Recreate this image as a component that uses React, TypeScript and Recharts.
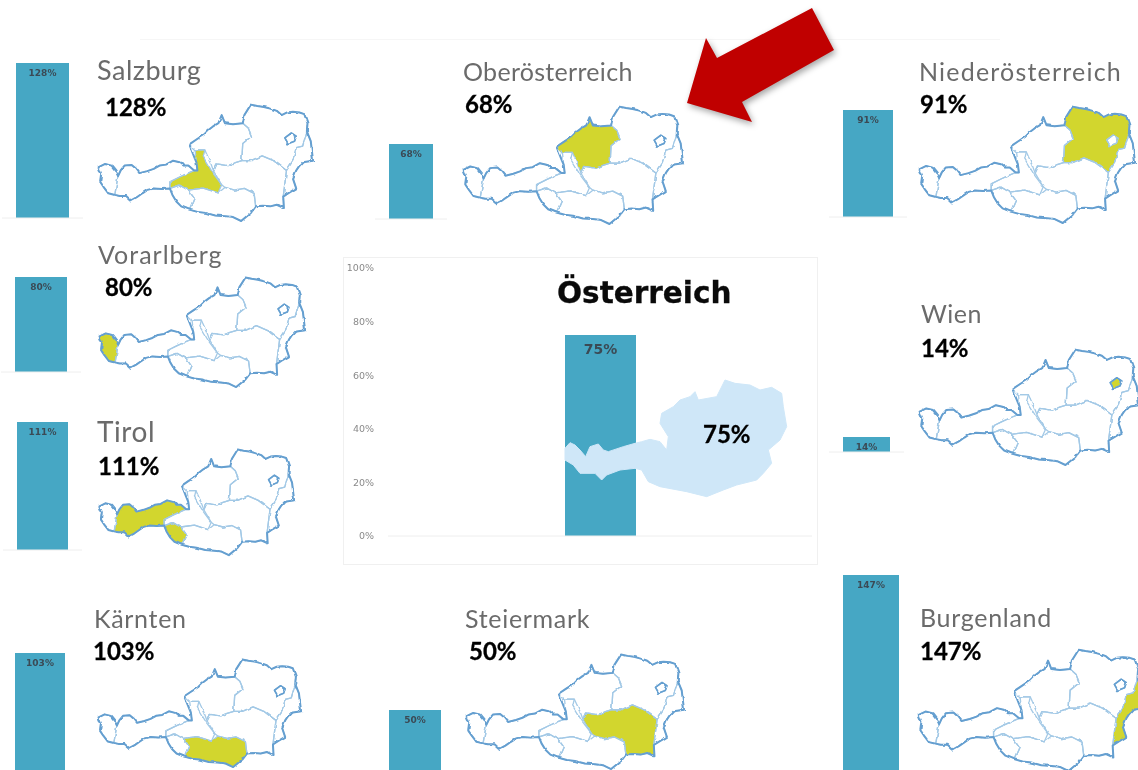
import { BarChart, Bar, XAxis, YAxis, LabelList, ReferenceLine } from "recharts";

// values
const regions = ["Salzburg", "Oberösterreich", "Niederösterreich", "Vorarlberg", "Tirol", "Wien", "Kärnten", "Steiermark", "Burgenland"];
const regionValues = [128, 68, 91, 80, 111, 14, 103, 50, 147];
const totalLabel = "Österreich";
const totalValue = 75;
const totalTicks = [0, 20, 40, 60, 80, 100];

// bar box: left, width, top of bar, bottom of bar (bars run off the page at the bottom row)
const barBoxes = [
  [16, 53, 63, 218],
  [389, 44, 144, 219],
  [843, 50, 110, 217],
  [15, 52, 277, 372],
  [17, 51, 422, 550],
  [843, 47, 437, 452],
  [15, 50, 653, 778],
  [389, 52, 710, 778],
  [843, 56, 575, 790],
];
// map box: left, top, width, height
const mapBoxes = [
  [97, 103, 217, 119],
  [462, 105, 222, 120],
  [918, 105, 218, 119],
  [98, 276, 208, 112],
  [98, 448, 197, 108],
  [918, 348, 222, 118],
  [97, 658, 205, 110],
  [465, 653, 220, 117],
  [917, 648, 228, 124],
];
// title: left, centre y, size, letter spacing; percent: left, centre y
const titleBoxes = [
  [97, 69, 27, 0.5],
  [463, 71, 25, 0.3],
  [919, 71, 25, 1.2],
  [98, 254, 25, 1],
  [97, 431, 28, 0.6],
  [921, 313, 25, 0.5],
  [94, 618, 25, 0.7],
  [465, 618, 25, 0.7],
  [920, 617, 25, 0.7],
];
const percentBoxes = [
  [105, 107],
  [465, 104],
  [920, 104],
  [105, 287],
  [98, 466],
  [921, 348],
  [93, 651],
  [469, 651],
  [920, 651],
];

// map shapes, traced in a 670x365 box
const MAP_VIEW = "245 313 670 365";
const outline =
  "M250 510 L270 500 L290 505 L302 520 L310 537 L318 520 L330 505 L352 503 L366 515 L376 528 L400 522 L420 515 L438 505 L458 502 L480 490 L500 495 L512 505 L527 505 L545 520 L555 520 L552 495 L545 478 L530 440 L552 425 L575 410 L590 395 L603 385 L620 375 L630 350 L640 375 L665 378 L695 375 L700 350 L720 318 L740 322 L760 325 L780 330 L800 337 L815 350 L832 342 L850 340 L870 342 L885 347 L895 375 L893 400 L905 430 L912 490 L880 495 L868 508 L860 520 L850 545 L860 575 L835 590 L820 600 L822 635 L800 625 L780 630 L757 628 L735 630 L720 650 L690 675 L665 663 L640 660 L610 658 L580 650 L555 647 L530 640 L505 630 L490 615 L478 595 L470 575 L445 577 L420 575 L400 580 L385 590 L368 602 L350 612 L335 598 L315 598 L300 595 L280 590 L265 570 L255 555 L258 530 Z";
const wienHole = "M825 420 L845 405 L860 415 L855 430 L835 438 Z";
const regionShapes = [
  // Salzburg
  "M548 457 L578 457 L573 478 L603 528 L630 564 L619 589 L573 574 L526 580 L500 565 L470 575 L470 555 L500 540 L526 528 L545 520 L555 520 L552 495 Z",
  // Oberösterreich
  "M530 440 L552 425 L575 410 L590 395 L603 385 L620 375 L630 350 L640 375 L665 378 L695 375 L712 390 L722 415 L695 437 L692 490 L670 497 L650 505 L615 500 L605 522 L595 495 L578 457 L548 457 Z",
  // Niederösterreich
  "M700 350 L720 318 L740 322 L760 325 L780 330 L800 337 L815 350 L832 342 L850 340 L870 342 L885 347 L895 375 L893 400 L880 445 L860 450 L850 490 L830 520 L810 505 L790 490 L755 475 L720 490 L692 490 L695 437 L722 415 L712 390 L695 375 Z M825 420 L845 405 L860 415 L855 430 L835 438 Z",
  // Vorarlberg
  "M250 510 L270 500 L290 505 L302 520 L310 537 L305 565 L300 595 L280 590 L265 570 L255 555 L258 530 Z",
  // Tirol with Osttirol
  "M310 537 L318 520 L330 505 L352 503 L366 515 L376 528 L400 522 L420 515 L438 505 L458 502 L480 490 L500 495 L512 505 L527 505 L545 520 L526 528 L500 540 L470 555 L470 575 L445 577 L420 575 L400 580 L385 590 L368 602 L350 612 L335 598 L315 598 L300 595 L305 565 Z M470 575 L500 565 L526 580 L535 590 L545 605 L530 640 L505 630 L490 615 L478 595 Z",
  // Wien
  wienHole,
  // Kärnten
  "M545 605 L526 580 L573 574 L619 589 L640 572 L670 580 L700 575 L730 590 L735 630 L720 650 L690 675 L665 663 L640 660 L610 658 L580 650 L555 647 L530 640 Z",
  // Steiermark
  "M605 522 L615 500 L650 505 L670 497 L692 490 L720 490 L755 475 L790 490 L810 505 L830 520 L825 560 L820 600 L822 635 L800 625 L780 630 L757 628 L735 630 L730 590 L700 575 L670 580 L640 572 L630 564 Z",
  // Burgenland
  "M880 445 L893 400 L905 430 L912 490 L880 495 L868 508 L860 520 L850 545 L860 575 L835 590 L820 600 L825 560 L830 520 L850 490 L860 450 Z",
];
// whole country for the middle panel, traced in a 1470x960 box
const countryShape =
  "M675 595 L690 578 L705 585 L720 600 L737 620 L750 590 L775 582 L790 600 L805 605 L850 590 L885 580 L905 575 L930 568 L960 575 L980 600 L985 560 L960 520 L965 490 L1000 470 L1020 450 L1050 440 L1065 425 L1075 450 L1130 440 L1155 390 L1185 400 L1230 405 L1260 420 L1295 412 L1325 430 L1330 470 L1340 530 L1320 570 L1285 600 L1295 640 L1270 670 L1250 690 L1190 705 L1150 720 L1100 740 L1040 725 L960 710 L925 695 L905 660 L885 655 L840 660 L800 675 L785 690 L765 670 L720 670 L700 645 L675 630 Z";

const BAR_COLOR = "#46a7c4";
const LABEL_COLOR = "#3b4a55";
const AXIS_LINE = "#eeeeee";
const TEXT_FONT = "Lato, 'Open Sans', sans-serif";
const CHART_FONT = "'DejaVu Sans', sans-serif";

const percent = (v: any) => `${v}%`;

function RegionBar({ name, value, box }: { name: string; value: number; box: number[] }) {
  const [left, width, top, bottom] = box;
  const chartData = [{ name, value }];
  return (
    <div style={{ position: "absolute", left: left - 14, top, width: width + 28, height: bottom - top + 2 }}>
      <BarChart width={width + 28} height={bottom - top + 2} data={chartData} margin={{ top: 0, right: 0, bottom: 2, left: 0 }}>
        <XAxis dataKey="name" hide />
        <YAxis hide domain={[0, value]} />
        <ReferenceLine y={0} stroke={AXIS_LINE} />
        <Bar dataKey="value" fill={BAR_COLOR} barSize={width} isAnimationActive={false}>
          <LabelList
            dataKey="value"
            position="insideTop"
            offset={7}
            formatter={percent}
            fill={LABEL_COLOR}
            fontSize={9}
            fontWeight={700}
            fontFamily={CHART_FONT}
          />
        </Bar>
      </BarChart>
    </div>
  );
}

// roughens the traced borders a little, the source maps are jagged
function RoughDefs() {
  return (
    <svg width={0} height={0} style={{ position: "absolute" }}>
      <defs>
        <filter id="rough" x="-5%" y="-5%" width="110%" height="110%">
          <feTurbulence type="fractalNoise" baseFrequency="0.045" numOctaves={2} seed={4} result="noise" />
          <feDisplacementMap in="SourceGraphic" in2="noise" scale={9} xChannelSelector="R" yChannelSelector="G" />
        </filter>
      </defs>
    </svg>
  );
}

function RegionMap({ active, box }: { active: number; box: number[] }) {
  const [left, top, width, height] = box;
  return (
    <svg
      viewBox={MAP_VIEW}
      preserveAspectRatio="none"
      style={{ position: "absolute", left, top, width, height, overflow: "visible" }}
    >
      <g filter="url(#rough)">
        <path d={regionShapes[active]} fill="#d2d62f" fillRule="evenodd" stroke="none" />
        {regionShapes.map((d, i) => (
          <path key={i} d={d} fill="none" stroke="#a3c9e6" strokeWidth={1.3} vectorEffect="non-scaling-stroke" strokeLinejoin="round" />
        ))}
        <path d={outline} fill="none" stroke="#659fd0" strokeWidth={2} vectorEffect="non-scaling-stroke" strokeLinejoin="round" />
        {active !== 2 && (
          <path d={wienHole} fill="none" stroke="#659fd0" strokeWidth={1.6} vectorEffect="non-scaling-stroke" strokeLinejoin="round" />
        )}
      </g>
    </svg>
  );
}

function Caption(props: { left: number; y: number; size: number; spacing?: number; bold?: boolean; color: string; font?: string; text: string }) {
  const { left, y, size, spacing, bold, color, font, text } = props;
  return (
    <div
      style={{
        position: "absolute",
        left,
        top: y,
        transform: "translateY(-50%)",
        fontFamily: font ?? TEXT_FONT,
        fontSize: size,
        fontWeight: bold ? 700 : 400,
        letterSpacing: spacing ?? 0,
        WebkitTextStroke: bold ? "0.3px currentColor" : undefined,
        color,
        lineHeight: 1,
        whiteSpace: "nowrap",
      }}
    >
      {text}
    </div>
  );
}

function TotalPanel() {
  const chartData = [{ name: totalLabel, value: totalValue }];
  return (
    <>
      <div style={{ position: "absolute", left: 343, top: 257, width: 475, height: 308, border: "1px solid #f0f0f0", boxSizing: "border-box" }}>
        <BarChart width={473} height={306} data={chartData} margin={{ top: 10, right: 5, bottom: 28, left: 0 }}>
          <XAxis dataKey="name" hide />
          <YAxis
            domain={[0, 100]}
            ticks={totalTicks}
            tickFormatter={percent}
            width={44}
            axisLine={false}
            tickLine={false}
            tickMargin={8}
            tick={{ fontSize: 9.5, fill: "#8a8a8a", fontFamily: CHART_FONT }}
          />
          <ReferenceLine y={0} stroke={AXIS_LINE} />
          <Bar dataKey="value" fill={BAR_COLOR} barSize={71} isAnimationActive={false}>
            <LabelList
              dataKey="value"
              position="insideTop"
              offset={9}
              formatter={percent}
              fill={LABEL_COLOR}
              fontSize={14}
              fontWeight={700}
              fontFamily={CHART_FONT}
            />
          </Bar>
        </BarChart>
      </div>
      <svg
        viewBox="0 0 1470 960"
        preserveAspectRatio="none"
        style={{ position: "absolute", left: 340, top: 250, width: 490, height: 320 }}
      >
        <path d={countryShape} fill="#cfe7f8" stroke="#cfe7f8" strokeWidth={3} strokeLinejoin="round" />
      </svg>
      <Caption left={557} y={294} size={29.5} bold color="#0a0a0a" font={CHART_FONT} text={totalLabel} />
      <Caption left={703} y={434} size={24} bold color="#000000" text={`${totalValue}%`} />
    </>
  );
}

export default function App() {
  return (
    <div style={{ position: "absolute", left: 0, top: 0, width: 1138, height: 770, overflow: "hidden", background: "#fff" }}>
      <RoughDefs />
      <div style={{ position: "absolute", inset: 0, filter: "blur(0.6px)" }}>
        <div style={{ position: "absolute", left: 140, top: 39, width: 860, height: 1, background: "#f6f6f6" }} />
        {regions.map((name, i) => (
          <div key={name}>
            <RegionBar name={name} value={regionValues[i]} box={barBoxes[i]} />
            <RegionMap active={i} box={mapBoxes[i]} />
            <Caption left={titleBoxes[i][0]} y={titleBoxes[i][1]} size={titleBoxes[i][2]} spacing={titleBoxes[i][3]} color="#6b6b6b" text={name} />
            <Caption left={percentBoxes[i][0]} y={percentBoxes[i][1]} size={24} bold color="#000000" text={`${regionValues[i]}%`} />
          </div>
        ))}
        <TotalPanel />
      </div>
      <svg width={1138} height={770} style={{ position: "absolute", left: 0, top: 0, filter: "drop-shadow(2px 3px 3px rgba(0,0,0,0.35))" }}>
        <polygon points="812,8 834,50 742,102 752,122 687,103 706,38 717,58" fill="#c00000" />
      </svg>
    </div>
  );
}
